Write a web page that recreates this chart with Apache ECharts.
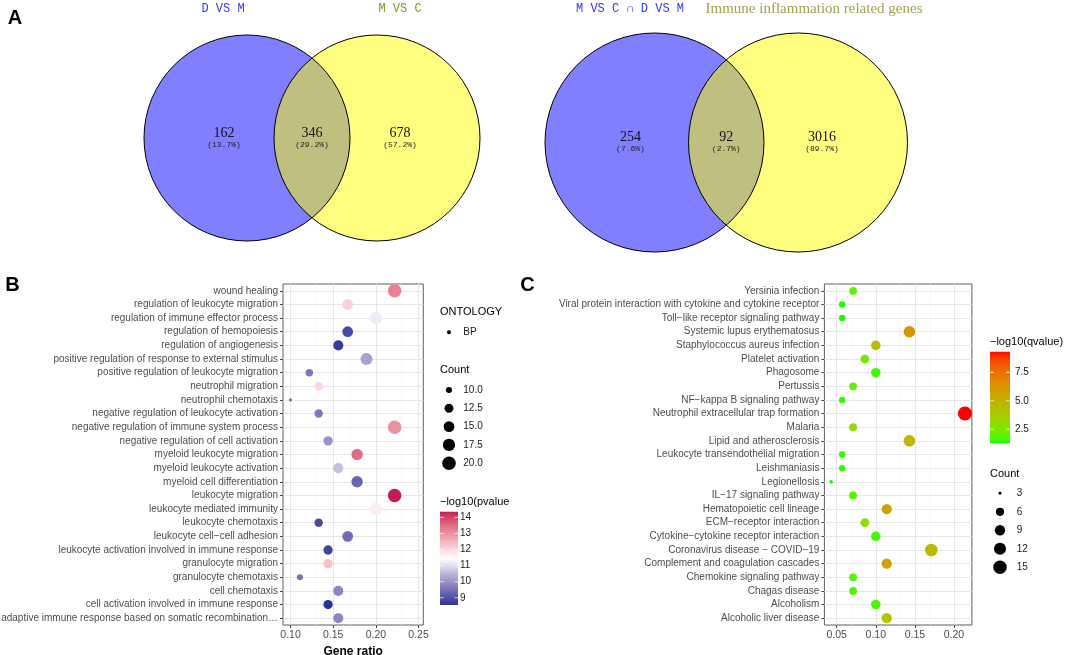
<!DOCTYPE html>
<html><head><meta charset="utf-8">
<script src="https://cdn.jsdelivr.net/npm/echarts@6/dist/echarts.min.js"></script>
<style>html,body{margin:0;padding:0;background:#fff}#c{width:1072px;height:655px}</style>
</head><body><div id="c"></div>
<script>
// ================= DATA =================
// Panel A – Venn diagrams
const vennA_sets = ['D VS M', 'M VS C'];
const vennA_counts = [162, 346, 678];
const vennA_pcts = ['(13.7%)', '(29.2%)', '(57.2%)'];
const vennB_sets = ['M VS C \u2229 D VS M', 'Immune inflammation related genes'];
const vennB_counts = [254, 92, 3016];
const vennB_pcts = ['(7.6%)', '(2.7%)', '(89.7%)'];

// Panel B – GO BP enrichment
const goTerms = [
  'wound healing', 'regulation of leukocyte migration', 'regulation of immune effector process',
  'regulation of hemopoiesis', 'regulation of angiogenesis',
  'positive regulation of response to external stimulus', 'positive regulation of leukocyte migration',
  'neutrophil migration', 'neutrophil chemotaxis', 'negative regulation of leukocyte activation',
  'negative regulation of immune system process', 'negative regulation of cell activation',
  'myeloid leukocyte migration', 'myeloid leukocyte activation', 'myeloid cell differentiation',
  'leukocyte migration', 'leukocyte mediated immunity', 'leukocyte chemotaxis',
  'leukocyte cell\u2212cell adhesion', 'leukocyte activation involved in immune response',
  'granulocyte migration', 'granulocyte chemotaxis', 'cell chemotaxis',
  'cell activation involved in immune response',
  'adaptive immune response based on somatic recombination\u2026'
];
const goRatio = [0.222, 0.167, 0.200, 0.167, 0.156, 0.189, 0.122, 0.133, 0.100, 0.133,
                 0.222, 0.144, 0.178, 0.156, 0.178, 0.222, 0.200, 0.133, 0.167, 0.144,
                 0.144, 0.111, 0.156, 0.144, 0.156];
const goCount = [20, 15, 18, 15, 14, 17, 11, 12, 9, 12,
                 20, 13, 16, 14, 16, 20, 18, 12, 15, 13,
                 13, 10, 14, 13, 14];
const goLogP  = [13.2, 12.1, 11.2, 8.9, 8.7, 10.2, 9.6, 12.0, 9.3, 9.6,
                 13.0, 10.0, 13.5, 10.6, 9.3, 14.35, 11.7, 8.9, 9.4, 8.8,
                 12.3, 9.5, 9.8, 8.55, 9.8];
const goCountBreaks = [10, 12.5, 15, 17.5, 20];
const goColorBreaks = [9, 10, 11, 12, 13, 14];
const goOntology = ['BP'];

// Panel C – KEGG enrichment
const keggTerms = [
  'Yersinia infection', 'Viral protein interaction with cytokine and cytokine receptor',
  'Toll\u2212like receptor signaling pathway', 'Systemic lupus erythematosus',
  'Staphylococcus aureus infection', 'Platelet activation', 'Phagosome', 'Pertussis',
  'NF\u2212kappa B signaling pathway', 'Neutrophil extracellular trap formation', 'Malaria',
  'Lipid and atherosclerosis', 'Leukocyte transendothelial migration', 'Leishmaniasis',
  'Legionellosis', 'IL\u221217 signaling pathway', 'Hematopoietic cell lineage',
  'ECM\u2212receptor interaction', 'Cytokine\u2212cytokine receptor interaction',
  'Coronavirus disease \u2212 COVID\u221219', 'Complement and coagulation cascades',
  'Chemokine signaling pathway', 'Chagas disease', 'Alcoholism', 'Alcoholic liver disease'
];
const keggRatio = [0.071, 0.057, 0.057, 0.143, 0.100, 0.086, 0.100, 0.071, 0.057, 0.214,
                   0.071, 0.143, 0.057, 0.057, 0.043, 0.071, 0.114, 0.086, 0.100, 0.171,
                   0.114, 0.071, 0.071, 0.100, 0.114];
const keggCount = [5, 4, 4, 10, 7, 6, 7, 5, 4, 15,
                   5, 10, 4, 4, 3, 5, 8, 6, 7, 12,
                   8, 5, 5, 7, 8];
const keggLogQ  = [1.9, 1.4, 1.4, 6.3, 4.4, 2.3, 1.6, 2.1, 1.5, 9.31,
                   3.0, 4.8, 1.5, 1.5, 1.27, 1.9, 5.5, 3.0, 1.6, 4.6,
                   5.6, 1.8, 1.8, 1.7, 4.2];
const keggCountBreaks = [3, 6, 9, 12, 15];
const keggColorBreaks = [2.5, 5.0, 7.5];

// Axis gridline positions (tick values)
const goMajorX = [0.10, 0.15, 0.20, 0.25];
const goMinorX = [0.125, 0.175, 0.225];
const keggMajorX = [0.05, 0.10, 0.15, 0.20];
const keggMinorX = [0.075, 0.125, 0.175];

// ================= STYLE / LAYOUT =================
const SANS = '"Liberation Sans", Arial, Helvetica, sans-serif';
const MONO = '"Liberation Mono", "DejaVu Sans Mono", monospace';
const SERIF = '"Liberation Serif", "Times New Roman", serif';

function hexToRgb(h){h=h.replace('#','');return [0,2,4].map(i=>parseInt(h.substr(i,2),16));}
function rgbToLab(c){
  const f=v=>{v/=255;return v<=0.04045?v/12.92:Math.pow((v+0.055)/1.055,2.4)};
  const R=f(c[0]),G=f(c[1]),B=f(c[2]);
  const X=(0.4124564*R+0.3575761*G+0.1804375*B)/0.95047,
        Y=(0.2126729*R+0.7151522*G+0.0721750*B),
        Z=(0.0193339*R+0.1191920*G+0.9503041*B)/1.08883;
  const g=t=>t>0.008856?Math.cbrt(t):7.787*t+16/116;
  const fx=g(X),fy=g(Y),fz=g(Z);
  return [116*fy-16,500*(fx-fy),200*(fy-fz)];
}
function labToHex(l){
  const fy=(l[0]+16)/116, fx=fy+l[1]/500, fz=fy-l[2]/200;
  const inv=t=>{const t3=t*t*t;return t3>0.008856?t3:(t-16/116)/7.787};
  const X=0.95047*inv(fx),Y=inv(fy),Z=1.08883*inv(fz);
  const r=3.2404542*X-1.5371385*Y-0.4985314*Z,
        g=-0.9692660*X+1.8760108*Y+0.0415560*Z,
        b=0.0556434*X-0.2040259*Y+1.0572252*Z;
  const gm=c=>{c=c<=0.0031308?12.92*c:1.055*Math.pow(c,1/2.4)-0.055;return Math.max(0,Math.min(255,Math.round(c*255)))};
  return '#'+[gm(r),gm(g),gm(b)].map(v=>v.toString(16).padStart(2,'0')).join('');
}
function labRamp(colors,n){
  const labs=colors.map(c=>rgbToLab(hexToRgb(c)));const out=[];
  for(let i=0;i<n;i++){
    const t=i/(n-1)*(labs.length-1);const k=Math.min(Math.floor(t),labs.length-2);const u=t-k;
    const A=labs[k],B=labs[k+1];
    out.push(labToHex([A[0]+(B[0]-A[0])*u,A[1]+(B[1]-A[1])*u,A[2]+(B[2]-A[2])*u]));
  }
  return out;
}
const goRamp = labRamp(['#283593','#ffffff','#c51b56'], 31);
const keggRamp = labRamp(['#00ff00','#ff0000'], 31);

const goPMin = Math.min(...goLogP), goPMax = Math.max(...goLogP);
const keggQMin = Math.min(...keggLogQ), keggQMax = Math.max(...keggLogQ);
const goCMin = Math.min(...goCount), goCMax = Math.max(...goCount);
const keggCMin = Math.min(...keggCount), keggCMax = Math.max(...keggCount);
const sizeGO = c => 0.8 + 2.12*(1 + 5*Math.sqrt(Math.max(0,(c-goCMin)/(goCMax-goCMin))));
const sizeKEGG = c => 1.3 + 2.12*(1 + 5*Math.sqrt(Math.max(0,(c-keggCMin)/(keggCMax-keggCMin))));

const vennLayout = [
  {c1:[247,138], c2:[377,138], r:103, off:23, titleY:9, titleX:[223,400],
   titleFont:[MONO,MONO], titleSize:[12,12], titleColor:['#3434ff','#8e8e2a']},
  {c1:[654.5,142.5], c2:[798,142.5], r:109.5, off:24, titleY:9, titleX:[630,814],
   titleFont:[MONO,SERIF], titleSize:[12,15], titleColor:['#3434ff','#a0a24e']}
];
const vennData = [
  {sets:vennA_sets, counts:vennA_counts, pcts:vennA_pcts},
  {sets:vennB_sets, counts:vennB_counts, pcts:vennB_pcts}
];

function txt(x,y,text,font,fill,align){
  return {type:'text', x:x, y:y, silent:true,
    style:{text:text, font:font, fill:fill||'#000', align:align||'left', textAlign:align||'left',
           verticalAlign:'middle', textVerticalAlign:'middle'}};
}

function vennRender(params, api){
  const L = vennLayout[params.dataIndex], D = vennData[params.dataIndex];
  const ch = [];
  ch.push({type:'circle', shape:{cx:L.c1[0],cy:L.c1[1],r:L.r}, style:{fill:'rgba(0,0,255,0.5)'}});
  ch.push({type:'circle', shape:{cx:L.c2[0],cy:L.c2[1],r:L.r}, style:{fill:'rgba(255,255,0,0.5)'}});
  ch.push({type:'circle', shape:{cx:L.c1[0],cy:L.c1[1],r:L.r}, style:{fill:'none',stroke:'#000',lineWidth:1}});
  ch.push({type:'circle', shape:{cx:L.c2[0],cy:L.c2[1],r:L.r}, style:{fill:'none',stroke:'#000',lineWidth:1}});
  for(let k=0;k<2;k++){
    ch.push(txt(L.titleX[k], L.titleY, D.sets[k], L.titleSize[k]+'px '+L.titleFont[k], L.titleColor[k], 'center'));
  }
  const lensMid = ((L.c2[0]-L.r)+(L.c1[0]+L.r))/2;
  const xs = [L.c1[0]-L.off, lensMid, L.c2[0]+L.off];
  for(let k=0;k<3;k++){
    ch.push(txt(xs[k], L.c1[1]-5, String(D.counts[k]), '14px '+SERIF, '#111', 'center'));
    ch.push(txt(xs[k], L.c1[1]+6.5, D.pcts[k], '8px '+MONO, '#222', 'center'));
  }
  return {type:'group', children:ch};
}

function xAxisCfg(gi, min, max, name){
  return {gridIndex:gi, type:'value', min:min, max:max, splitNumber:4,
    axisLine:{show:false}, axisTick:{show:true, length:3, lineStyle:{color:'#444', width:1}},
    axisLabel:{showMinLabel:false, showMaxLabel:false, formatter:v=>v.toFixed(2),
               fontSize:10.5, color:'#4d4d4d', margin:5, fontFamily:SANS},
    splitLine:{show:false}, minorSplitLine:{show:false},
    name:name, nameLocation:'middle', nameGap:17,
    nameTextStyle:{fontWeight:'bold', fontSize:12, color:'#000', fontFamily:SANS}};
}
function yAxisCfg(gi, cats){
  return {gridIndex:gi, type:'category', data:cats, inverse:true,
    axisLine:{show:false}, axisTick:{show:true, alignWithLabel:true, length:3, lineStyle:{color:'#444', width:1}},
    axisLabel:{interval:0, fontSize:10, color:'#4d4d4d', margin:5, fontFamily:SANS},
    splitLine:{show:false}};
}
function gridLines(gi, majors, minors, nCat){
  const d=[];
  for(let i=0;i<nCat;i++) d.push({yAxis:i, lineStyle:{color:'#e6e6e6', width:1, type:'solid'}});
  minors.forEach(v=>d.push({xAxis:v, lineStyle:{color:'#f2f2f2', width:0.7, type:'solid'}}));
  majors.forEach(v=>d.push({xAxis:v, lineStyle:{color:'#e6e6e6', width:1, type:'solid'}}));
  return {type:'scatter', xAxisIndex:gi, yAxisIndex:gi, data:[], z:1, silent:true,
    markLine:{z:1, silent:true, symbol:['none','none'], label:{show:false}, animation:false,
      emphasis:{disabled:true}, data:d}};
}

// legends (graphic)
const G = [];
G.push(txt(15, 18, 'A', 'bold 20px '+SANS, '#000', 'center'));
G.push(txt(12.5, 285, 'B', 'bold 20px '+SANS, '#000', 'center'));
G.push(txt(527.5, 285, 'C', 'bold 20px '+SANS, '#000', 'center'));

// GO legends
G.push(txt(440, 312, 'ONTOLOGY', '11px '+SANS, '#000'));
goOntology.forEach((o,i)=>{
  G.push({type:'circle', silent:true, shape:{cx:449, cy:332.3+i*18, r:2}, style:{fill:'#000'}});
  G.push(txt(463.3, 332.3+i*18, o, '10px '+SANS, '#1a1a1a'));
});
G.push(txt(440, 370, 'Count', '11px '+SANS, '#000'));
goCountBreaks.forEach((b,i)=>{
  const y = 390 + i*18.3;
  G.push({type:'circle', silent:true, shape:{cx:449, cy:y, r:sizeGO(b)/2}, style:{fill:'#000'}});
  G.push(txt(463.3, y, b.toFixed(1), '10px '+SANS, '#1a1a1a'));
});
function colorbar(x, top, w, h, ramp, vmin, vmax, breaks, labX, fmt){
  const stops = ramp.map((c,i)=>({offset:1 - i/(ramp.length-1), color:c}));
  stops.reverse();
  G.push({type:'rect', silent:true, shape:{x:x, y:top, width:w, height:h},
          style:{fill:new echarts.graphic.LinearGradient(0,0,0,1,stops)}});
  breaks.forEach(b=>{
    const y = top + (vmax-b)/(vmax-vmin)*h;
    G.push({type:'line', silent:true, shape:{x1:x, y1:y, x2:x+w/5, y2:y}, style:{stroke:'rgba(255,255,255,0.9)', lineWidth:0.8}});
    G.push({type:'line', silent:true, shape:{x1:x+w-w/5, y1:y, x2:x+w, y2:y}, style:{stroke:'rgba(255,255,255,0.9)', lineWidth:0.8}});
    G.push(txt(labX, y, fmt(b), '10px '+SANS, '#1a1a1a'));
  });
}
G.push(txt(440, 502, '\u2212log10(pvalue', '11px '+SANS, '#000'));
colorbar(440, 511.7, 18, 93.3, goRamp, goPMin, goPMax, goColorBreaks, 460, v=>String(v));

// KEGG legends
G.push(txt(990, 342, '\u2212log10(qvalue)', '11px '+SANS, '#000'));
colorbar(990, 351.7, 20, 91.6, keggRamp, keggQMin, keggQMax, keggColorBreaks, 1015, v=>v.toFixed(1));
G.push(txt(990, 474, 'Count', '11px '+SANS, '#000'));
keggCountBreaks.forEach((b,i)=>{
  const y = 493.3 + i*18.5;
  G.push({type:'circle', silent:true, shape:{cx:1000, cy:y, r:(sizeKEGG(b)-0.5)/2}, style:{fill:'#000'}});
  G.push(txt(1016.7, y, String(b), '10px '+SANS, '#1a1a1a'));
});

const gridBase = {show:true, backgroundColor:'#fff', borderColor:'#5e5e5e', borderWidth:1,
                  containLabel:false, outerBoundsMode:'none'};

const option = {
  animation:false,
  backgroundColor:'#fff',
  textStyle:{fontFamily:SANS},
  grid:[
    Object.assign({left:283, top:284, width:140.3, height:341}, gridBase),
    Object.assign({left:824.4, top:284, width:147.5, height:341}, gridBase)
  ],
  xAxis:[xAxisCfg(0, 0.0912, 0.2556, 'Gene ratio'), xAxisCfg(1, 0.0343, 0.2229, '')],
  yAxis:[yAxisCfg(0, goTerms), yAxisCfg(1, keggTerms)],
  visualMap:[
    {type:'continuous', show:false, seriesIndex:2, dimension:2, min:goPMin, max:goPMax, inRange:{color:goRamp}},
    {type:'continuous', show:false, seriesIndex:4, dimension:2, min:keggQMin, max:keggQMax, inRange:{color:keggRamp}}
  ],
  series:[
    {type:'custom', coordinateSystem:'none', renderItem:vennRender, data:[[0],[1]], silent:true, z:2},
    gridLines(0, goMajorX, goMinorX, goTerms.length),
    {type:'scatter', xAxisIndex:0, yAxisIndex:0, z:3, symbol:'circle',
     data:goTerms.map((t,i)=>[goRatio[i], t, goLogP[i], goCount[i]]),
     symbolSize:v=>sizeGO(v[3]), itemStyle:{opacity:1}},
    gridLines(1, keggMajorX, keggMinorX, keggTerms.length),
    {type:'scatter', xAxisIndex:1, yAxisIndex:1, z:3, symbol:'circle',
     data:keggTerms.map((t,i)=>[keggRatio[i], t, keggLogQ[i], keggCount[i]]),
     symbolSize:v=>sizeKEGG(v[3]), itemStyle:{opacity:1}}
  ],
  graphic:{elements:G}
};
const chart = echarts.init(document.getElementById('c'), null, {renderer:'canvas'});
chart.setOption(option);
</script>
</body></html>
